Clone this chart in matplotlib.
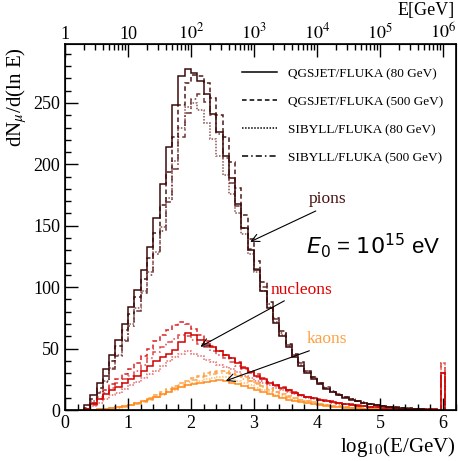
import numpy as np
import matplotlib.pyplot as plt
from matplotlib.lines import Line2D
from matplotlib.ticker import MultipleLocator, FixedLocator, FixedFormatter

plt.rcParams['font.family'] = ['Liberation Serif', 'DejaVu Serif']
plt.rcParams['mathtext.fontset'] = 'stix'

# histogram bins in log10(E/GeV), 0.1 wide from 0.3 to 5.9, plus the narrow bin at the primary energy
bin_edges = np.round(np.arange(0.3, 5.91, 0.1), 2)
spike_edges = [5.975, 6.025]

# pions
pion_qgs80 = [4, 12, 22, 33, 45, 57, 70, 84, 98, 114,
              133, 156, 184, 214, 248, 272, 278, 274, 268, 257,
              241, 226, 207, 189, 168, 148, 130, 114, 97, 83,
              71, 60, 51, 43, 36, 30, 25, 21, 17, 14.5,
              12, 10, 8.3, 7, 5.7, 4.7, 3.9, 3.1, 2.5, 2,
              1.6, 1.2, 0.9, 0.6, 0.4, 0.2]
pion_qgs500 = [2, 9, 18, 28, 40, 52, 65, 78, 92, 107,
               124, 144, 167, 194, 222, 248, 266, 273, 272, 266,
               254, 240, 222, 202, 181, 159, 139, 121, 104, 88,
               75, 64, 54, 46, 39, 32, 27, 22, 18, 15,
               12.5, 10.5, 8.7, 7.2, 6, 5, 4.1, 3.3, 2.7, 2.1,
               1.7, 1.3, 1, 0.7, 0.4, 0.2]
pion_sib80 = [1, 7, 15, 24, 34, 45, 57, 70, 83, 97,
              112, 129, 149, 173, 203, 230, 247, 250, 244, 234,
              221, 207, 191, 176, 160, 143, 127, 112, 97, 84,
              72, 61, 52, 44, 37, 31, 26, 21.5, 18, 15,
              12.5, 10.5, 8.7, 7.2, 6, 5, 4, 3.3, 2.7, 2.1,
              1.7, 1.3, 1, 0.7, 0.4, 0.2]
pion_sib500 = [1, 6, 14, 23, 33, 44, 56, 68, 81, 95,
               110, 127, 146, 169, 196, 222, 242, 253, 257, 251,
               240, 225, 205, 185, 166, 148, 131, 115, 100, 86,
               74, 63, 53, 45, 38, 32, 27, 22, 18.5, 15.5,
               13, 10.8, 9, 7.5, 6.2, 5.1, 4.2, 3.4, 2.8, 2.2,
               1.8, 1.4, 1, 0.7, 0.4, 0.2]

# nucleons
nuc_qgs80 = [1, 5, 9, 13, 16, 19, 22, 25, 28, 32,
             36, 40, 43, 46, 49, 55, 63, 61, 57, 54,
             51, 48, 45, 42, 38, 34, 31, 28, 25, 22,
             20, 18, 16, 14, 12, 11, 9.5, 8.5, 7.5, 6.5,
             5.5, 5, 4.2, 3.6, 3, 2.6, 2.2, 1.9, 1.6, 1.3,
             1.1, 1, 0.9, 0.8, 0.7, 0.6]
nuc_qgs500 = [1, 6, 11, 16, 21, 25, 29, 33, 38, 44,
              50, 56, 61, 65, 69, 72, 70, 66, 61, 56,
              52, 48, 45, 42, 39, 35, 32, 29, 26, 23,
              20.5, 18.5, 16.5, 14.5, 12.5, 11, 10, 9, 8, 7,
              6, 5.2, 4.5, 3.8, 3.2, 2.7, 2.3, 2, 1.7, 1.4,
              1.2, 1, 0.9, 0.8, 0.7, 0.6]
nuc_sib80 = [0.5, 3, 6, 9, 12, 14, 17, 20, 23, 26,
             29, 32, 36, 40, 43, 46, 48, 46, 44, 41,
             39, 37, 35, 33, 31, 28, 26, 24, 22, 20,
             18, 16, 14.5, 13, 11.5, 10, 9, 8, 7, 6,
             5.2, 4.6, 4, 3.4, 2.9, 2.5, 2.1, 1.8, 1.5, 1.3,
             1.1, 1, 0.9, 0.8, 0.7, 0.6]
nuc_sib500 = [0.5, 4, 9, 14, 18, 22, 25, 28, 32, 37,
              42, 47, 51, 55, 58, 61, 60, 57, 54, 51,
              48, 45, 42, 39, 36, 33, 30, 27, 24, 21.5,
              19.5, 17.5, 15.5, 14, 12, 10.5, 9.5, 8.5, 7.5, 6.5,
              5.7, 5, 4.3, 3.7, 3.1, 2.6, 2.2, 1.9, 1.6, 1.3,
              1.1, 1, 0.9, 0.8, 0.7, 0.6]
nuc_spike = {'qgs80': 30, 'qgs500': 30, 'sib80': 38, 'sib500': 38}

# kaons
kaon_qgs80 = [0, 0.3, 0.6, 1, 1.5, 2.2, 3, 4, 5.5, 7,
              9, 11, 13, 15, 17, 19, 20, 21, 22, 23,
              24, 24.5, 24, 22, 21, 19.5, 18, 16.5, 15, 13,
              11.5, 10, 8.5, 7.5, 6.5, 5.5, 4.7, 4, 3.4, 2.8,
              2.3, 2, 1.6, 1.3, 1, 0.8, 0.6, 0.5, 0.4, 0.3,
              0.2, 0.2, 0.1, 0.1, 0.1, 0]
kaon_qgs500 = [0, 0.3, 0.6, 1, 1.6, 2.3, 3.2, 4.3, 5.8, 7.5,
               9.5, 12, 14.5, 17, 19.5, 22, 24, 26, 28, 30,
               31, 32, 32, 30.5, 28.5, 26.5, 24, 22, 19.5, 17,
               15, 13, 11.5, 10, 8.5, 7.3, 6.2, 5.2, 4.4, 3.6,
               3, 2.5, 2, 1.6, 1.3, 1, 0.8, 0.6, 0.5, 0.4,
               0.3, 0.2, 0.2, 0.1, 0.1, 0]
kaon_sib80 = [0, 0.2, 0.5, 0.9, 1.4, 2, 2.8, 3.8, 5, 6.5,
              8.5, 10.5, 12.5, 14.5, 16.5, 18.5, 20, 22, 23.5, 25,
              26, 27, 26.5, 25, 23.5, 22, 20, 18, 16, 14.5,
              12.5, 11, 9.5, 8.3, 7.2, 6.2, 5.2, 4.4, 3.7, 3.1,
              2.6, 2.1, 1.7, 1.4, 1.1, 0.9, 0.7, 0.5, 0.4, 0.3,
              0.2, 0.2, 0.1, 0.1, 0.1, 0]
kaon_sib500 = [0, 0.2, 0.5, 0.9, 1.4, 2, 2.8, 3.8, 5, 6.5,
               8.5, 10.5, 13, 15.5, 18, 20.5, 22.5, 24.5, 26.5, 28,
               29.5, 30, 30, 29, 27.5, 25.5, 23.5, 21, 19, 16.5,
               14.5, 12.5, 11, 9.5, 8.2, 7, 6, 5, 4.2, 3.5,
               2.9, 2.4, 1.9, 1.5, 1.2, 1, 0.8, 0.6, 0.5, 0.4,
               0.3, 0.2, 0.2, 0.1, 0.1, 0]

models = ['qgs80', 'qgs500', 'sib80', 'sib500']
legend_labels = ['QGSJET/FLUKA (80 GeV)', 'QGSJET/FLUKA (500 GeV)',
                 'SIBYLL/FLUKA (80 GeV)', 'SIBYLL/FLUKA (500 GeV)']
top_labels = ['1', '10', '$10^2$', '$10^3$', '$10^4$', '$10^5$', '$10^6$']

linestyles = {'qgs80': '-', 'qgs500': (0, (3, 2)),
              'sib80': (0, (1, 1)), 'sib500': (0, (4, 2, 1, 2))}
pion_col = {'qgs80': '#3d0a0a', 'qgs500': '#4e1717', 'sib80': '#8a5555', 'sib500': '#6e3535'}
nuc_col = {'qgs80': '#d00000', 'qgs500': '#dc2020', 'sib80': '#e86a6a', 'sib500': '#e04848'}
kaon_col = {'qgs80': '#ff8a1a', 'qgs500': '#ffa040', 'sib80': '#ffbb70', 'sib500': '#ffaa55'}

pions = dict(zip(models, [pion_qgs80, pion_qgs500, pion_sib80, pion_sib500]))
nucleons = dict(zip(models, [nuc_qgs80, nuc_qgs500, nuc_sib80, nuc_sib500]))
kaons = dict(zip(models, [kaon_qgs80, kaon_qgs500, kaon_sib80, kaon_sib500]))

fig = plt.figure(figsize=(4.58, 4.61), dpi=100)
ax = fig.add_axes([0.142, 0.1106, 0.8528, 0.794])

# draw lighter SIBYLL curves first, solid last
for m in ['sib80', 'sib500', 'qgs500', 'qgs80']:
    ls = linestyles[m]
    ax.stairs(kaons[m], bin_edges, baseline=0, color=kaon_col[m], ls=ls, lw=1.1)
    ax.stairs(nucleons[m], bin_edges, baseline=0, color=nuc_col[m], ls=ls, lw=1.1)
    ax.stairs([nuc_spike[m]], spike_edges, baseline=0, color=nuc_col[m], ls=ls, lw=1.1)
    ax.stairs(pions[m], bin_edges, baseline=0, color=pion_col[m], ls=ls, lw=1.1)

ax.set_xlim(0, 6.2)
ax.set_ylim(0, 298)
ax.xaxis.set_major_locator(MultipleLocator(1))
ax.xaxis.set_minor_locator(MultipleLocator(0.2))
ax.yaxis.set_major_locator(MultipleLocator(50))
ax.yaxis.set_minor_locator(MultipleLocator(10))
ax.tick_params(which='both', direction='in', top=False, right=False, labelsize=13, width=1)
ax.tick_params(which='major', length=9)
ax.tick_params(which='minor', length=4.5)
for s in ax.spines.values():
    s.set_linewidth(1.2)

# top axis in E[GeV]
ax2 = ax.twiny()
ax2.set_xlim(ax.get_xlim())
ax2.xaxis.set_major_locator(FixedLocator(np.arange(7)))
ax2.xaxis.set_major_formatter(FixedFormatter(top_labels))
minor = [np.log10(k * 10.0**n) for n in range(6) for k in range(2, 10)]
ax2.xaxis.set_minor_locator(FixedLocator(minor))
ax2.tick_params(which='both', direction='in', labelsize=13, pad=1, width=1)
ax2.tick_params(which='major', length=9)
ax2.tick_params(which='minor', length=4.5)

ax.set_xlabel(r'log$_{10}$(E/GeV)', loc='right', fontsize=15, labelpad=2)
ax.set_ylabel(r'dN$_{\mu}$/d(ln E)', loc='top', fontsize=15)
ax.yaxis.set_label_coords(-0.092, 0.99)
fig.text(0.993, 0.978, 'E[GeV]', ha='right', va='center', fontsize=13)

handles = [Line2D([], [], color='k', ls=linestyles[m], lw=1.1) for m in models]
ax.legend(handles, legend_labels, loc='upper right', bbox_to_anchor=(1.0, 0.968),
          frameon=False, fontsize=9.5, handlelength=2.6, handletextpad=0.9,
          labelspacing=1.2)

ax.text(4.16, 172, 'pions', color='#4a1010', fontsize=12.5, ha='center', va='center')
ax.annotate('', xy=(2.90, 136), xytext=(4.02, 163),
            arrowprops=dict(arrowstyle='->', color='k', lw=0.8, mutation_scale=14))
ax.text(3.76, 98, 'nucleons', color='#e00000', fontsize=12.5, ha='center', va='center')
ax.annotate('', xy=(2.11, 50.5), xytext=(3.52, 90),
            arrowprops=dict(arrowstyle='->', color='k', lw=0.8, mutation_scale=14))
ax.text(4.16, 58, 'kaons', color='#ffa040', fontsize=12.5, ha='center', va='center')
ax.annotate('', xy=(2.51, 23), xytext=(3.92, 49),
            arrowprops=dict(arrowstyle='->', color='k', lw=0.8, mutation_scale=14))

ax.text(5.95, 134, r'$E_0$ = $10^{15}$ eV', family='Liberation Sans',
        math_fontfamily='dejavusans', fontsize=16, ha='right', va='center')

fig.savefig('out.png', dpi=100)
